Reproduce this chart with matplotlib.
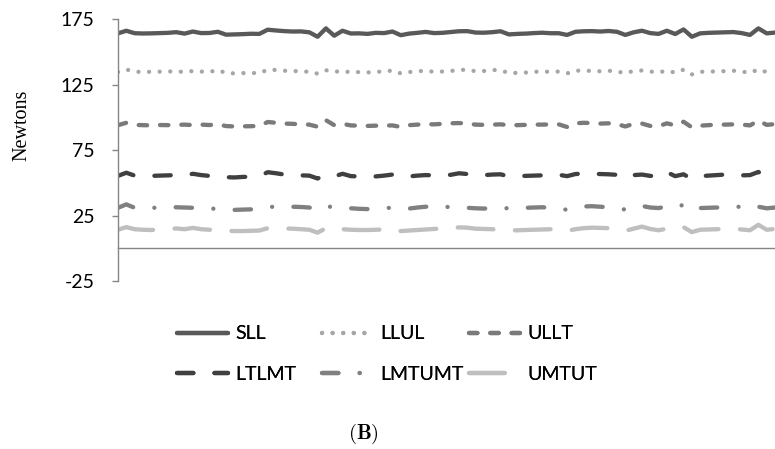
import matplotlib
matplotlib.use("Agg")
import matplotlib.pyplot as plt
import numpy as np

# --------------------
# Data (Newtons per sample)
# --------------------
series_names = ["SLL", "LLUL", "ULLT", "LTLMT", "LMTUMT", "UMTUT"]

sll = [164.4, 166.4, 164.5, 164.3, 164.4, 164.6, 164.8, 165.3, 164.2, 165.8,
       164.6, 164.7, 165.6, 163.4, 163.6, 163.8, 164.1, 164.0, 167.2, 166.6,
       166.1, 165.8, 165.9, 165.2, 161.8, 168.2, 162.6, 166.4, 164.3, 164.4,
       164.0, 164.8, 164.6, 165.8, 163.0, 164.2, 164.8, 165.5, 164.6, 164.8,
       165.4, 166.0, 166.1, 165.0, 164.9, 165.3, 166.0, 163.6, 164.0, 164.2,
       164.6, 164.9, 164.5, 164.5, 163.2, 165.6, 166.0, 166.1, 165.8, 166.2,
       165.6, 163.2, 165.2, 166.4, 164.6, 164.0, 166.4, 163.9, 167.4, 161.8,
       164.4, 164.8, 165.0, 165.2, 165.4, 164.6, 163.2, 168.2, 164.4, 165.0]

llul = [134.8, 136.8, 135.0, 134.9, 135.0, 135.1, 135.2, 135.4, 134.8, 135.6,
        135.2, 134.9, 136.4, 134.0, 133.8, 134.0, 134.1, 134.0, 136.6, 136.4,
        135.8, 135.6, 135.4, 135.0, 133.6, 136.2, 135.0, 135.6, 134.6, 134.8,
        134.5, 135.0, 135.2, 136.0, 133.8, 134.8, 135.4, 135.8, 135.0, 135.2,
        135.6, 136.4, 136.6, 135.4, 135.6, 136.4, 136.2, 134.0, 134.2, 134.4,
        135.0, 135.2, 135.0, 135.2, 133.8, 135.8, 136.0, 135.6, 135.4, 135.8,
        135.2, 134.0, 135.6, 136.0, 135.2, 134.6, 135.8, 134.4, 136.6, 133.0,
        135.0, 135.2, 135.3, 135.5, 135.8, 135.2, 134.2, 136.8, 134.8, 135.4]

ullt = [94.2, 96.0, 94.4, 94.2, 94.0, 94.3, 94.2, 94.4, 94.6, 94.2,
        94.6, 94.3, 94.8, 93.5, 93.2, 93.3, 93.4, 93.6, 96.6, 96.0,
        95.4, 95.2, 94.8, 94.6, 93.0, 98.0, 94.2, 95.2, 94.0, 93.8,
        93.6, 93.8, 93.9, 94.0, 92.8, 94.2, 94.6, 95.0, 94.8, 95.2,
        95.6, 95.8, 95.4, 94.6, 94.4, 94.6, 94.8, 94.2, 94.2, 94.4,
        94.6, 94.6, 94.8, 94.8, 92.8, 95.6, 96.0, 95.8, 95.4, 95.6,
        95.0, 93.2, 95.2, 95.4, 93.6, 93.4, 95.6, 94.0, 96.8, 92.5,
        93.8, 94.2, 94.6, 94.6, 94.8, 94.6, 94.0, 97.8, 94.4, 95.0]

ltlmt = [55.4, 57.8, 55.6, 55.2, 55.4, 55.6, 55.8, 56.0, 55.6, 57.0,
         56.0, 55.4, 55.0, 54.4, 54.2, 54.6, 54.8, 55.2, 58.2, 57.4,
         56.4, 56.0, 55.8, 55.6, 53.4, 56.0, 55.0, 57.0, 55.2, 55.0,
         54.6, 55.0, 55.6, 56.4, 54.6, 55.0, 55.6, 56.0, 55.8, 56.0,
         56.2, 57.4, 56.8, 55.8, 56.0, 56.4, 56.6, 55.0, 55.2, 55.4,
         55.6, 55.8, 56.0, 56.2, 55.2, 56.8, 57.2, 57.0, 56.8, 56.6,
         56.2, 53.4, 56.0, 56.4, 55.4, 55.0, 58.2, 55.2, 56.6, 53.0,
         55.2, 55.6, 56.0, 56.4, 56.2, 55.8, 56.0, 58.4, 54.4, 56.0]

lmtumt = [31.0, 33.6, 31.0, 30.8, 30.9, 31.2, 31.6, 31.4, 31.2, 31.0,
          30.6, 30.4, 30.2, 29.6, 29.4, 29.6, 29.8, 30.2, 31.4, 32.0,
          32.2, 31.8, 31.6, 31.2, 29.8, 32.6, 31.0, 31.2, 30.6, 30.2,
          30.0, 30.4, 30.8, 31.0, 30.0, 30.4, 31.2, 31.8, 32.2, 32.0,
          31.4, 31.2, 31.0, 30.6, 30.4, 30.6, 30.8, 30.6, 30.8, 31.0,
          31.2, 31.4, 31.0, 30.6, 29.4, 30.8, 32.0, 32.2, 31.8, 31.4,
          30.8, 29.6, 31.0, 32.4, 31.2, 30.8, 32.0, 31.0, 33.4, 29.2,
          30.8, 31.0, 31.2, 31.4, 32.0, 31.6, 30.2, 31.8, 30.6, 31.2]

umtut = [14.2, 16.2, 14.6, 14.2, 14.0, 14.4, 14.8, 15.2, 14.6, 15.6,
         14.6, 14.2, 14.0, 13.4, 13.2, 13.2, 13.4, 13.6, 15.4, 15.6,
         15.2, 15.0, 14.6, 14.2, 12.0, 15.4, 13.8, 14.6, 14.2, 14.0,
         14.0, 14.2, 14.4, 15.0, 13.2, 13.6, 14.0, 14.4, 14.8, 15.2,
         15.6, 16.0, 15.8, 15.0, 14.8, 14.6, 14.4, 13.6, 13.8, 14.0,
         14.2, 14.4, 14.6, 14.8, 13.4, 14.6, 15.4, 15.8, 15.6, 15.4,
         15.0, 13.4, 15.0, 16.6, 14.8, 13.8, 15.0, 14.4, 16.2, 12.4,
         14.2, 14.4, 14.6, 14.8, 15.0, 14.4, 13.8, 18.0, 14.2, 14.8]

y_ticks = [-25, 25, 75, 125, 175]

# --------------------
# Styles (Excel-like grey scale, dash patterns in units of linewidth)
# --------------------
colors = ["#595959", "#a6a6a6", "#7a7a7a", "#404040", "#808080", "#bfbfbf"]
styles = ["-",
          (0, (0.01, 2.45)),
          (0, (1.95, 3.0)),
          (0, (3.8, 4.9)),
          (0, (3.8, 4.95, 0.01, 4.95)),
          (0, (8.3, 5.0))]
lw = 3.1

fig = plt.figure(figsize=(7.75, 4.49), dpi=100)
ax = fig.add_axes([118 / 775, 1 - 281 / 449, 1 - 118 / 775, (281 - 19.5) / 449])

all_series = [sll, llul, ullt, ltlmt, lmtumt, umtut]
x = np.arange(len(sll))
handles = []
for name, vals, c, ls in zip(series_names, all_series, colors, styles):
    h, = ax.plot(x, vals, color=c, linestyle=ls, linewidth=lw,
                 dash_capstyle="round", solid_capstyle="round",
                 dash_joinstyle="round", solid_joinstyle="round", label=name)
    handles.append(h)

ax.set_xlim(0, len(sll) - 1)
ax.set_ylim(-25, 175)
ax.set_yticks(y_ticks)
ax.set_yticklabels([str(t) for t in y_ticks], fontfamily="Lato", fontsize=14)
ax.tick_params(axis="y", length=4, width=1, color="#868686", pad=13)
ax.set_xticks([])

for s in ["top", "right"]:
    ax.spines[s].set_visible(False)
ax.spines["left"].set_color("#868686")
ax.spines["left"].set_linewidth(1.0)
ax.spines["bottom"].set_position(("data", 0))
ax.spines["bottom"].set_color("#868686")
ax.spines["bottom"].set_linewidth(1.0)

fig.text(21.7 / 775, 1 - 125 / 449, "Newtons", rotation=90, ha="center", va="center",
         fontfamily="Liberation Serif", fontsize=14.5)

# --------------------
# Legend: three columns of two rows, placed below the axes
# --------------------
col_x = [177, 322, 469]
for k in range(3):
    hs = [handles[k], handles[k + 3]]
    leg = fig.legend(hs, [h.get_label() for h in hs], loc="center left",
                     bbox_to_anchor=(col_x[k] / 775, 1 - 354 / 449),
                     frameon=False, borderpad=0, borderaxespad=0,
                     handlelength=2.6, handletextpad=0.4, labelspacing=1.2,
                     prop={"family": "Lato", "size": 14})
    fig.add_artist(leg)

fig.text(363 / 775, 1 - 434 / 449, r"$\mathbf{(B)}$", ha="center", va="center",
         fontsize=15, math_fontfamily="cm")

fig.savefig("out.png", dpi=100)
